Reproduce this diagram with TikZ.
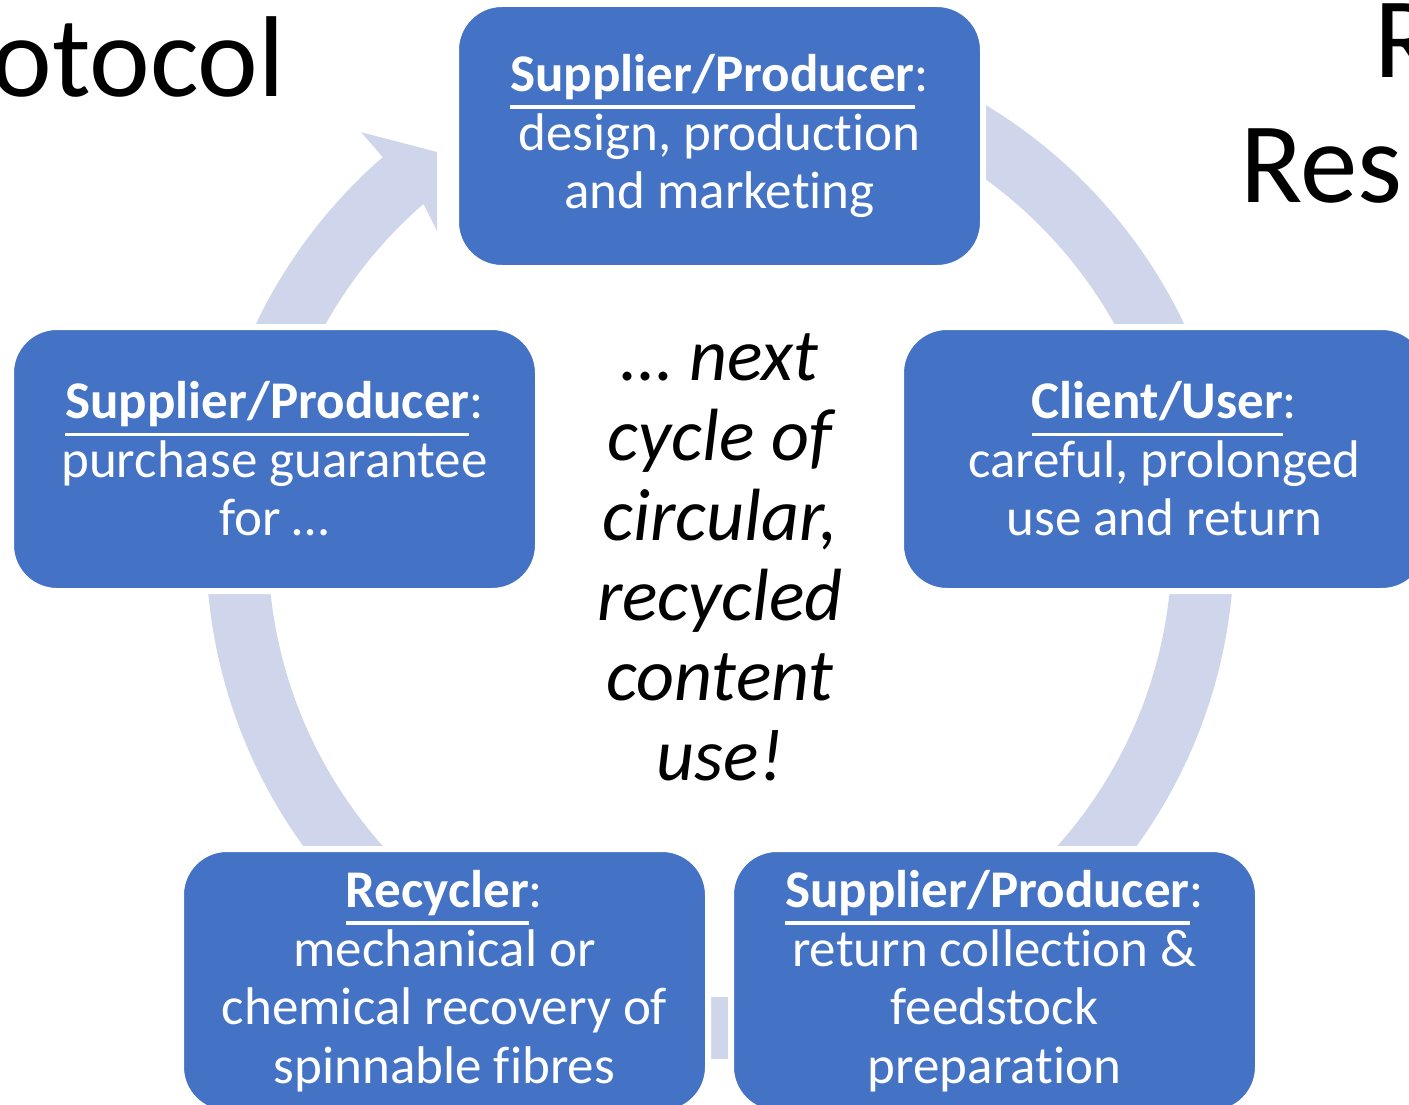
\documentclass[tikz,border=0pt]{standalone}
\usepackage{fontspec}
\setmainfont{Carlito}[Ligatures=NoCommon]
\definecolor{boxblue}{HTML}{4472C4}
\definecolor{ringc}{HTML}{CFD5EA}
\newsavebox\ulbox
\newcommand\ulbold[1]{\sbox\ulbox{\bfseries #1}\rlap{\rule[-0.32em]{\wd\ulbox}{0.06em}}\usebox\ulbox}
\begin{document}
\begin{tikzpicture}[x=1pt,y=1pt,
  stage/.style={rectangle, rounded corners=46pt, fill=boxblue, draw=white, line width=6pt,
    minimum width=527pt, minimum height=264pt, text=white, align=center,
    font=\fontsize{53}{58.5}\selectfont, inner sep=0pt},
  titletext/.style={inner sep=0pt, font=\fontsize{115}{115}\selectfont},
  midtext/.style={inner sep=0pt, align=center, font=\fontsize{74}{80}\selectfont\itshape},
  ringfill/.style={fill=ringc}]
\useasboundingbox (0,0) rectangle (1409,-1105);
% titles
\node[titletext, anchor=base east] (ttl) at (285,-97) {otocol};
\node[titletext, anchor=base west] (tr1) at (1374,-78) {R};
\node[titletext, anchor=base west] (tr2) at (1240,-203) {Res};
% continuous ring arrow
\fill[ringfill] (675.2,-33.0) arc[start angle=95, end angle=-229, radius=514]
  -- (361.1,-132.2) -- (437,-152) -- (437,-231) -- (423.5,-203.9)
  arc[start angle=-229, end angle=95, radius=452] -- cycle;
% stages
\node[stage] (s1) at (719.5,-136) {\ulbold{Supplier/Producer}:\\design, production\\and marketing};
\node[stage] (s2) at (1164.5,-459) {\ulbold{Client/User}:\\careful, prolonged\\use and return};
\node[stage] (s3) at (994.5,-981) {\ulbold{Supplier/Producer}:\\return collection \&\\feedstock\\preparation};
\node[stage] (s4) at (444.5,-981) {\ulbold{Recycler}:\\mechanical or\\chemical recovery of\\spinnable fibres};
\node[stage] (s5) at (274.5,-459) {\ulbold{Supplier/Producer}:\\purchase guarantee\\for …};
% centre text
\node[midtext] (mid) at (720,-557) {… next\\cycle of\\circular,\\recycled\\content\\use!};
\end{tikzpicture}
\end{document}
